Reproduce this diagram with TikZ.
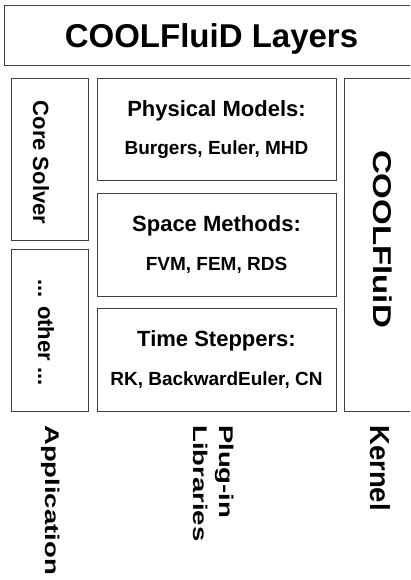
\documentclass[tikz,border=0pt]{standalone}
\usepackage{fontspec}
\setmainfont{Liberation Sans}
\usepackage{graphicx}

% Texto aplastado en altura
\newcommand{\aplastar}[2]{\scalebox{1}[#1]{#2}}

\begin{document}
\begin{tikzpicture}[x=1pt, y=-1pt,
  caja/.style={draw=black!75, line width=0.9pt},
  titulo/.style={font=\fontsize{22}{26}\selectfont\bfseries, inner sep=0pt, anchor=base},
  lista/.style={font=\fontsize{19}{23}\selectfont\bfseries, inner sep=0pt, anchor=base},
  vert/.style={rotate=-90, inner sep=0pt, anchor=base, font=\fontsize{22}{26}\selectfont\bfseries},
  capa/.style={rotate=-90, inner sep=0pt, anchor=base west, font=\fontsize{27.5}{33}\selectfont\bfseries}]
  \useasboundingbox (0,0) rectangle (410,580);
  \clip (0,0) rectangle (410,580);

  % Caja del título
  \draw[caja] (4,5) rectangle (420,65);
  \node[titulo, font=\fontsize{33}{40}\selectfont\bfseries] (tit) at (211.5,48) {COOLFluiD Layers};

  % Columna de la aplicación
  \draw[caja] (11,78) rectangle (88,240);
  \draw[caja] (11,249) rectangle (88,411);
  \node[vert] (core) at (33,162.5) {Core Solver};
  \node[vert] (otro) at (38,332.5) {... other ...};

  % Librerías
  \draw[caja] (97,78) rectangle (336,180);
  \draw[caja] (97,193) rectangle (336,296);
  \draw[caja] (97,308) rectangle (336,411);
  \node[titulo] (fis) at (216.5,116.7) {Physical Models:};
  \node[lista] (fisl) at (216.5,154) {Burgers, Euler, MHD};
  \node[titulo] (esp) at (216.5,231.7) {Space Methods:};
  \node[lista] (espl) at (216.5,270) {FVM, FEM, RDS};
  \node[titulo] (tie) at (216.5,346.7) {Time Steppers:};
  \node[lista] (tiel) at (216.5,385) {RK, BackwardEuler, CN};

  % Núcleo
  \draw[caja] (344,78) rectangle (420,411);
  \node[vert, font=\fontsize{33}{40}\selectfont\bfseries] (nucleo) at (373,239) {\aplastar{0.78}{COOLFluiD}};

  % Nombres de las capas
  \node[capa] (app) at (45,425) {\aplastar{0.72}{Application}};
  \node[capa] (plug) at (219,425) {\aplastar{0.72}{Plug-in}};
  \node[capa] (libs) at (193.5,425) {\aplastar{0.72}{Libraries}};
  \node[capa] (kernel) at (370,425) {Kernel};
\end{tikzpicture}
\end{document}
